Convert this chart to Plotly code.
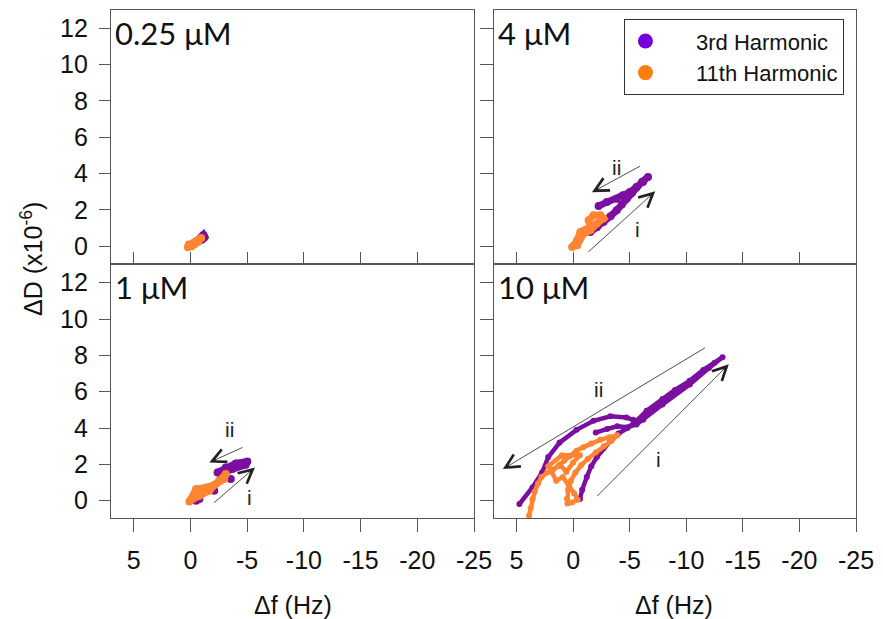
import plotly.graph_objects as go

# ---------------- data (Δf in Hz, ΔD in 1e-6) ----------------
x_tickvals = [5, 0, -5, -10, -15, -20, -25]
x_ticktext = ["5", "0", "-5", "-10", "-15", "-20", "-25"]
y_tickvals = [0, 2, 4, 6, 8, 10, 12]
y_ticktext = ["0", "2", "4", "6", "8", "10", "12"]

panel_labels = ["0.25 μM", "4 μM", "1 μM", "10 μM"]
legend_names = ["3rd Harmonic", "11th Harmonic"]

# 0.25 uM
h3_025_x = [-0.85, -1.0, -1.15, -1.25, -1.05, -0.9]
h3_025_y = [0.40, 0.52, 0.62, 0.50, 0.38, 0.45]
h11_025_x = [0.22, 0.1, -0.05, -0.2, -0.35, -0.5, -0.65, -0.8, -0.95, -0.7, -0.4, -0.1, 0.15]
h11_025_y = [-0.05, 0.02, 0.1, 0.15, 0.22, 0.28, 0.33, 0.4, 0.45, 0.25, 0.12, 0.0, 0.1]

# 4 uM
h3_4_x = [-1.52, -2.1, -2.68, -3.3, -3.85, -4.3, -4.72, -5.2, -5.6, -6.1, -6.62,
          -6.18, -5.6, -5.02, -4.4, -3.85, -2.97, -2.25]
h3_4_y = [0.79, 1.05, 1.34, 1.65, 1.98, 2.3, 2.62, 2.95, 3.26, 3.55, 3.81,
          3.53, 3.25, 2.98, 2.8, 2.62, 2.44, 2.22]
h11_4_x = [0.09, -0.35, -0.64, -1.09, -1.52, -1.37, -1.8, -2.4, -2.68, -2.1, -1.52, -0.93, -0.35]
h11_4_y = [-0.04, 0.33, 0.79, 0.88, 1.06, 1.43, 1.7, 1.7, 1.52, 1.25, 0.88, 0.7, 0.05]

# 1 uM
h3_1_x = [-2.39, -3.12, -4.0, -5.02, -4.87, -3.7, -2.68, None, -3.56, None, -2.1, None, -0.79, -0.5]
h3_1_y = [1.56, 1.83, 2.05, 2.16, 1.98, 1.74, 1.47, None, 1.19, None, 0.55, None, 0.09, 0.0]
h11_1_x = [0.09, -0.35, -0.5, -1.37, -2.24, -2.97, -3.12, -2.53, -1.66, -0.79, -0.06]
h11_1_y = [-0.04, 0.37, 0.64, 0.73, 0.92, 1.19, 1.47, 1.1, 0.55, 0.27, 0.04]

# 10 uM
h3_10_x = [-0.6, -0.8, -1.2, -1.6, -2.1, -2.7, -3.3, -4.0, -4.8, -5.6, -6.5, -7.9, -9.0,
           -10.3, -11.5, -12.5, -13.2,
           -12.0, -10.3, -7.9, -6.2, -5.6, -4.8, -3.9, -3.0, -2.0, None,
           -5.3, -4.7, -3.3, -1.8, -0.3, 1.2, 2.2, 2.75, 3.6, 4.75]
h3_10_y = [0.1, 0.6, 1.3, 1.9, 2.4, 2.9, 3.3, 3.7, 4.0, 4.4, 4.95, 5.6, 6.1,
           6.6, 7.2, 7.6, 7.9,
           7.3, 6.4, 5.3, 4.45, 4.2, 4.05, 4.1, 3.95, 3.75, None,
           4.45, 4.58, 4.65, 4.4, 3.9, 3.2, 2.4, 1.55, 0.73, -0.18]
h11_10_x = [3.9, 3.75, 3.6, 3.4, 3.1, 2.8, 2.3, 1.8, 1.3, 0.8, 0.3, -0.3, -0.9, -1.6,
            -2.4, -3.2, -3.9, -3.4, -2.7, -2.0, -1.3, -0.7, -0.2, 0.2, 0.45, 0.55,
            0.5, 0.1, -0.4, -0.1, 0.4, 0.9, 1.5, 1.9, 1.2, 0.6, 0.0, -0.6, 1.0, 2.2]
h11_10_y = [-0.82, -0.4, 0.1, 0.5, 0.95, 1.3, 1.55, 1.7, 1.9, 2.2, 2.45, 2.75, 2.95, 3.15,
            3.35, 3.5, 3.6, 3.3, 3.0, 2.65, 2.3, 1.95, 1.55, 1.1, 0.6, 0.1,
            -0.15, -0.1, 0.05, 0.4, 0.9, 1.3, 1.1, 1.6, 2.0, 1.6, 2.1, 2.5, 2.5, 1.9]

# arrows: (panel, head_x, head_y, tail_x, tail_y)
arrows = [
    (2, -1.66, 2.97, -6.04, 4.45),
    (2, -7.26, 3.02, -1.22, -0.38),
    (3, -1.66, 2.10, -4.72, 2.97),
    (3, -5.69, 1.83, -1.95, -0.18),
    (4, 6.21, 1.74, -11.78, 8.46),
    (4, -13.76, 7.51, -2.01, 0.18),
]
arrow_labels = [
    (2, "ii", -3.85, 4.35), (2, "i", -5.7, 0.93),
    (3, "ii", -3.41, 3.94), (3, "i", -5.22, 0.18),
    (4, "ii", -2.25, 6.14), (4, "i", -7.5, 2.29),
]

# ---------------- styling ----------------
PURPLE = "#7B0F9F"
ORANGE = "#FF8533"
LEG_PURPLE = "#7500D9"
LEG_ORANGE = "#FF7F0E"
SANS = "Liberation Sans"
TICKFONT = dict(family=SANS, size=25, color="#111")

fig = go.Figure()

series = [
    (1, h3_025_x, h3_025_y, h11_025_x, h11_025_y, 7, 8),
    (2, h3_4_x, h3_4_y, h11_4_x, h11_4_y, 7, 8),
    (3, h3_1_x, h3_1_y, h11_1_x, h11_1_y, 7, 8),
    (4, h3_10_x, h3_10_y, h11_10_x, h11_10_y, 4.5, 6),
]
for p, x3, y3, x11, y11, lw, ms in series:
    sfx = "" if p == 1 else str(p)
    fig.add_trace(go.Scatter(x=x3, y=y3, mode="lines+markers", xaxis="x" + sfx, yaxis="y" + sfx,
                             line=dict(color=PURPLE, width=lw), marker=dict(color=PURPLE, size=ms),
                             connectgaps=False, showlegend=False, hoverinfo="skip"))
    fig.add_trace(go.Scatter(x=x11, y=y11, mode="lines+markers", xaxis="x" + sfx, yaxis="y" + sfx,
                             line=dict(color=ORANGE, width=lw), marker=dict(color=ORANGE, size=ms),
                             showlegend=False, hoverinfo="skip"))

# legend entries
PAD = "&nbsp;" * 5
fig.add_trace(go.Scatter(x=[None], y=[None], mode="markers", name=PAD + legend_names[0],
                         marker=dict(color=LEG_PURPLE, size=15), xaxis="x2", yaxis="y2"))
fig.add_trace(go.Scatter(x=[None], y=[None], mode="markers", name=PAD + legend_names[1],
                         marker=dict(color=LEG_ORANGE, size=15), xaxis="x2", yaxis="y2"))

L = 111; R = 23; T = 9; B = 101
W = 883; H = 619
pw = W - L - R
ph = H - T - B
xd_left = [0, (476 - L) / pw]
xd_right = [(496 - L) / pw, 1]
yd_top = [(H - B - 263) / ph, 1]
yd_bot = [0, (H - B - 264) / ph]

common = dict(showline=True, mirror=True, linecolor="#555", linewidth=1.3, showgrid=False,
              zeroline=False, tickcolor="#555", tickwidth=1.3)
xr = [7, -25]
yr = [-0.95, 13.0]

def xax(domain, anchor, bottom):
    d = dict(common, domain=domain, anchor=anchor, range=xr, tickvals=x_tickvals, ticktext=x_ticktext)
    if bottom:
        d.update(ticks="outside", ticklen=13, showticklabels=True, tickfont=TICKFONT, ticklabelstandoff=7)
    else:
        d.update(ticks="inside", ticklen=11, showticklabels=False)
    return d

def yax(domain, anchor, left):
    d = dict(common, domain=domain, anchor=anchor, range=yr, tickvals=y_tickvals, ticktext=y_ticktext,
             ticks="outside")
    if left:
        d.update(ticklen=11, showticklabels=True, tickfont=TICKFONT, ticklabelstandoff=6)
    else:
        d.update(ticklen=13, showticklabels=False)
    return d

annotations = []
anchors = {1: ("x", "y"), 2: ("x2", "y2"), 3: ("x3", "y3"), 4: ("x4", "y4")}
for i, lab in enumerate(panel_labels):
    xa, ya = anchors[i + 1]
    annotations.append(dict(text=lab, xref=xa + " domain", yref=ya + " domain", x=0, y=1,
                            xanchor="left", yanchor="top", xshift=2, yshift=-2, showarrow=False,
                            font=dict(family="Lato", size=31, color="#111")))
for p, hx, hy, tx, ty in arrows:
    xa, ya = anchors[p]
    annotations.append(dict(text="", x=hx, y=hy, ax=tx, ay=ty, xref=xa, yref=ya, axref=xa, ayref=ya,
                            showarrow=True, arrowhead=5, arrowsize=3.4, arrowwidth=0.8,
                            arrowcolor="#222"))
for p, t, lx, ly in arrow_labels:
    xa, ya = anchors[p]
    annotations.append(dict(text=t, x=lx, y=ly, xref=xa, yref=ya, showarrow=False,
                            xanchor="center", yanchor="middle",
                            font=dict(family=SANS, size=21, color="#222")))
# axis titles
annotations.append(dict(text="ΔD (x10<sup>-6</sup>)", xref="paper", yref="paper",
                        x=(31 - L) / pw, y=(H - B - 258) / ph, textangle=-90, showarrow=False,
                        xanchor="center", yanchor="middle",
                        font=dict(family=SANS, size=25, color="#111")))
for xc in [(294 - L) / pw, (677 - L) / pw]:
    annotations.append(dict(text="Δf (Hz)", xref="paper", yref="paper", x=xc,
                            y=(H - B - 605) / ph, showarrow=False,
                            xanchor="center", yanchor="middle",
                            font=dict(family=SANS, size=25, color="#111")))

fig.update_layout(
    width=W, height=H, margin=dict(l=L, r=R, t=T, b=B),
    paper_bgcolor="white", plot_bgcolor="white",
    font=dict(family=SANS),
    xaxis=xax(xd_left, "y", False), yaxis=yax(yd_top, "x", True),
    xaxis2=xax(xd_right, "y2", False), yaxis2=yax(yd_top, "x2", False),
    xaxis3=xax(xd_left, "y3", True), yaxis3=yax(yd_bot, "x3", True),
    xaxis4=xax(xd_right, "y4", True), yaxis4=yax(yd_bot, "x4", False),
    annotations=annotations,
    legend=dict(x=(627 - L) / pw, y=(H - B - 18) / ph, xanchor="left", yanchor="top",
                bgcolor="white", bordercolor="#333", borderwidth=1.2,
                font=dict(family=SANS, size=22, color="#111"),
                itemwidth=30, tracegroupgap=0),
    showlegend=True,
)

fig.write_html("out.html")
